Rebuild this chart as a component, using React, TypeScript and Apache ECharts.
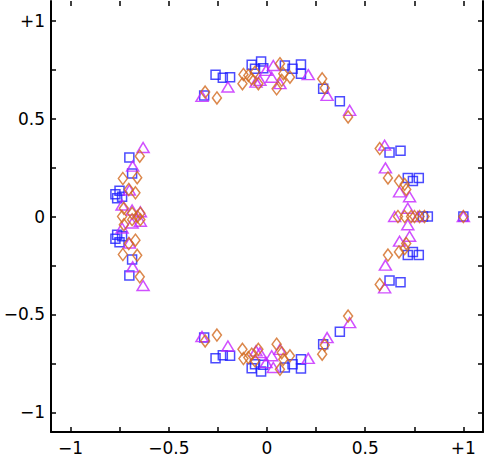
import React, { useEffect, useRef } from 'react';
import * as echarts from 'echarts';

const tickValues = [-1, -0.75, -0.5, -0.25, 0, 0.25, 0.5, 0.75, 1];
const labelValues = [-1, -0.5, 0, 0.5, 1];

const squares: [number, number][] = [
  [-0.32, 0.618], [-0.262, 0.724], [-0.225, 0.708], [-0.188, 0.711],
  [-0.078, 0.775], [-0.03, 0.791], [-0.061, 0.754], [-0.019, 0.757],
  [0.091, 0.771], [0.13, 0.754], [0.173, 0.776], [0.173, 0.729],
  [0.286, 0.652], [0.371, 0.588],
  [-0.32, -0.618], [-0.262, -0.724], [-0.225, -0.708], [-0.188, -0.711],
  [-0.078, -0.775], [-0.03, -0.791], [-0.061, -0.754], [-0.019, -0.757],
  [0.091, -0.771], [0.13, -0.754], [0.173, -0.776], [0.173, -0.729],
  [0.286, -0.652], [0.371, -0.588],
  [-0.701, 0.301], [-0.687, 0.22], [-0.751, 0.131], [-0.772, 0.113],
  [-0.763, 0.093], [-0.738, 0.101],
  [-0.701, -0.301], [-0.687, -0.22], [-0.751, -0.131], [-0.772, -0.113],
  [-0.763, -0.093], [-0.738, -0.101],
  [0.624, 0.327], [0.68, 0.335], [0.717, 0.197], [0.743, 0.181], [0.773, 0.197],
  [0.624, -0.327], [0.68, -0.335], [0.717, -0.197], [0.743, -0.181], [0.773, -0.197],
  [0.794, 0], [0.819, 0], [1.0, 0],
];

const diamonds: [number, number][] = [
  [-0.315, 0.635], [-0.255, 0.605], [-0.12, 0.725], [-0.125, 0.678],
  [-0.095, 0.72], [-0.078, 0.703], [-0.061, 0.737], [-0.044, 0.678],
  [0.066, 0.78], [0.049, 0.652], [0.083, 0.729], [0.075, 0.695],
  [0.117, 0.711], [0.281, 0.703], [0.294, 0.656], [0.413, 0.508],
  [-0.315, -0.635], [-0.255, -0.605], [-0.12, -0.725], [-0.125, -0.678],
  [-0.095, -0.72], [-0.078, -0.703], [-0.061, -0.737], [-0.044, -0.678],
  [0.066, -0.78], [0.049, -0.652], [0.083, -0.729], [0.075, -0.695],
  [0.117, -0.711], [0.281, -0.703], [0.294, -0.656], [0.413, -0.508],
  [-0.648, 0.308], [-0.734, 0.194], [-0.661, 0.198], [-0.704, 0.138],
  [-0.67, 0.121], [-0.729, 0.042], [-0.687, 0.016], [-0.645, 0.016],
  [-0.648, -0.308], [-0.734, -0.194], [-0.661, -0.198], [-0.704, -0.138],
  [-0.67, -0.121], [-0.729, -0.042], [-0.687, -0.016], [-0.645, -0.016],
  [-0.738, 0], [-0.66, 0],
  [0.574, 0.347], [0.616, 0.197], [0.672, 0.181], [0.701, 0.164], [0.709, 0.138],
  [0.574, -0.347], [0.616, -0.197], [0.672, -0.181], [0.701, -0.164], [0.709, -0.138],
  [0.667, 0], [0.701, 0], [0.734, 0], [0.751, 0], [0.777, 0], [0.802, 0], [1.0, 0],
];

const triangles: [number, number][] = [
  [-0.331, 0.613], [-0.199, 0.661], [-0.056, 0.686], [-0.036, 0.695],
  [-0.005, 0.746], [0.032, 0.771], [0.024, 0.711], [0.066, 0.678],
  [0.21, 0.724], [0.306, 0.618], [0.421, 0.542],
  [-0.331, -0.613], [-0.199, -0.661], [-0.056, -0.686], [-0.036, -0.695],
  [-0.005, -0.746], [0.032, -0.771], [0.024, -0.711], [0.066, -0.678],
  [0.21, -0.724], [0.306, -0.618], [0.421, -0.542],
  [-0.631, 0.352], [-0.684, 0.257], [-0.701, 0.135], [-0.738, 0.059],
  [-0.687, 0.033], [-0.645, 0.024],
  [-0.631, -0.352], [-0.684, -0.257], [-0.701, -0.135], [-0.738, -0.059],
  [-0.687, -0.033], [-0.645, -0.024],
  [0.599, 0.364], [0.603, 0.248], [0.675, 0.126], [0.726, 0.101], [0.717, 0.042],
  [0.599, -0.364], [0.603, -0.248], [0.675, -0.126], [0.726, -0.101], [0.717, -0.042],
  [0.65, 0], [0.768, 0], [1.0, 0],
];

const fmt = (v: number) => (v === 1 ? '+1' : v < 0 ? '\u2212' + String(-v) : String(v));

export default function App() {
  const ref = useRef<HTMLDivElement>(null);
  useEffect(() => {
    if (!ref.current) return;
    const chart = echarts.init(ref.current, undefined, { renderer: 'svg' });
    const tick = { show: true, inside: true, length: 5, customValues: tickValues, lineStyle: { color: '#000', width: 1.5 } };
    const label = { customValues: labelValues, formatter: fmt, fontSize: 17, color: '#000', fontFamily: 'DejaVu Sans, sans-serif' };
    const line = { show: true, onZero: false, lineStyle: { color: '#000', width: 2 } };
    const hiddenLine = { show: false, onZero: false };
    const base = { type: 'value', min: -1.1, max: 1.1, splitLine: { show: false } };
    chart.setOption({
      animation: false,
      backgroundColor: '#fff',
      grid: { left: 51, right: 1, top: 1, bottom: 25, containLabel: false },
      xAxis: [
        { ...base, position: 'bottom', axisLine: line, axisTick: tick, axisLabel: { ...label, margin: 7 } },
        { ...base, position: 'top', axisLine: hiddenLine, axisTick: tick, axisLabel: { show: false } },
      ],
      yAxis: [
        { ...base, position: 'left', axisLine: line, axisTick: tick, axisLabel: { ...label, margin: 6 } },
        { ...base, position: 'right', axisLine: line, axisTick: tick, axisLabel: { show: false } },
      ],
      series: [
        {
          type: 'scatter', name: 'squares', data: squares, symbol: 'rect', symbolSize: 9,
          itemStyle: { color: 'rgba(0,0,0,0)', borderColor: '#1e1eff', borderWidth: 1.5 },
        },
        {
          type: 'scatter', name: 'triangles', data: triangles, symbol: 'triangle', symbolSize: [12, 10],
          itemStyle: { color: 'rgba(0,0,0,0)', borderColor: '#c424ff', borderWidth: 1.5 },
        },
        {
          type: 'scatter', name: 'diamonds', data: diamonds, symbol: 'diamond', symbolSize: [9, 12],
          itemStyle: { color: 'rgba(0,0,0,0)', borderColor: '#d2691e', borderWidth: 1.5 },
        },
      ],
    });
    return () => chart.dispose();
  }, []);
  return <div ref={ref} style={{ width: 484, height: 457, position: 'absolute', left: 0, top: 0 }} />;
}
